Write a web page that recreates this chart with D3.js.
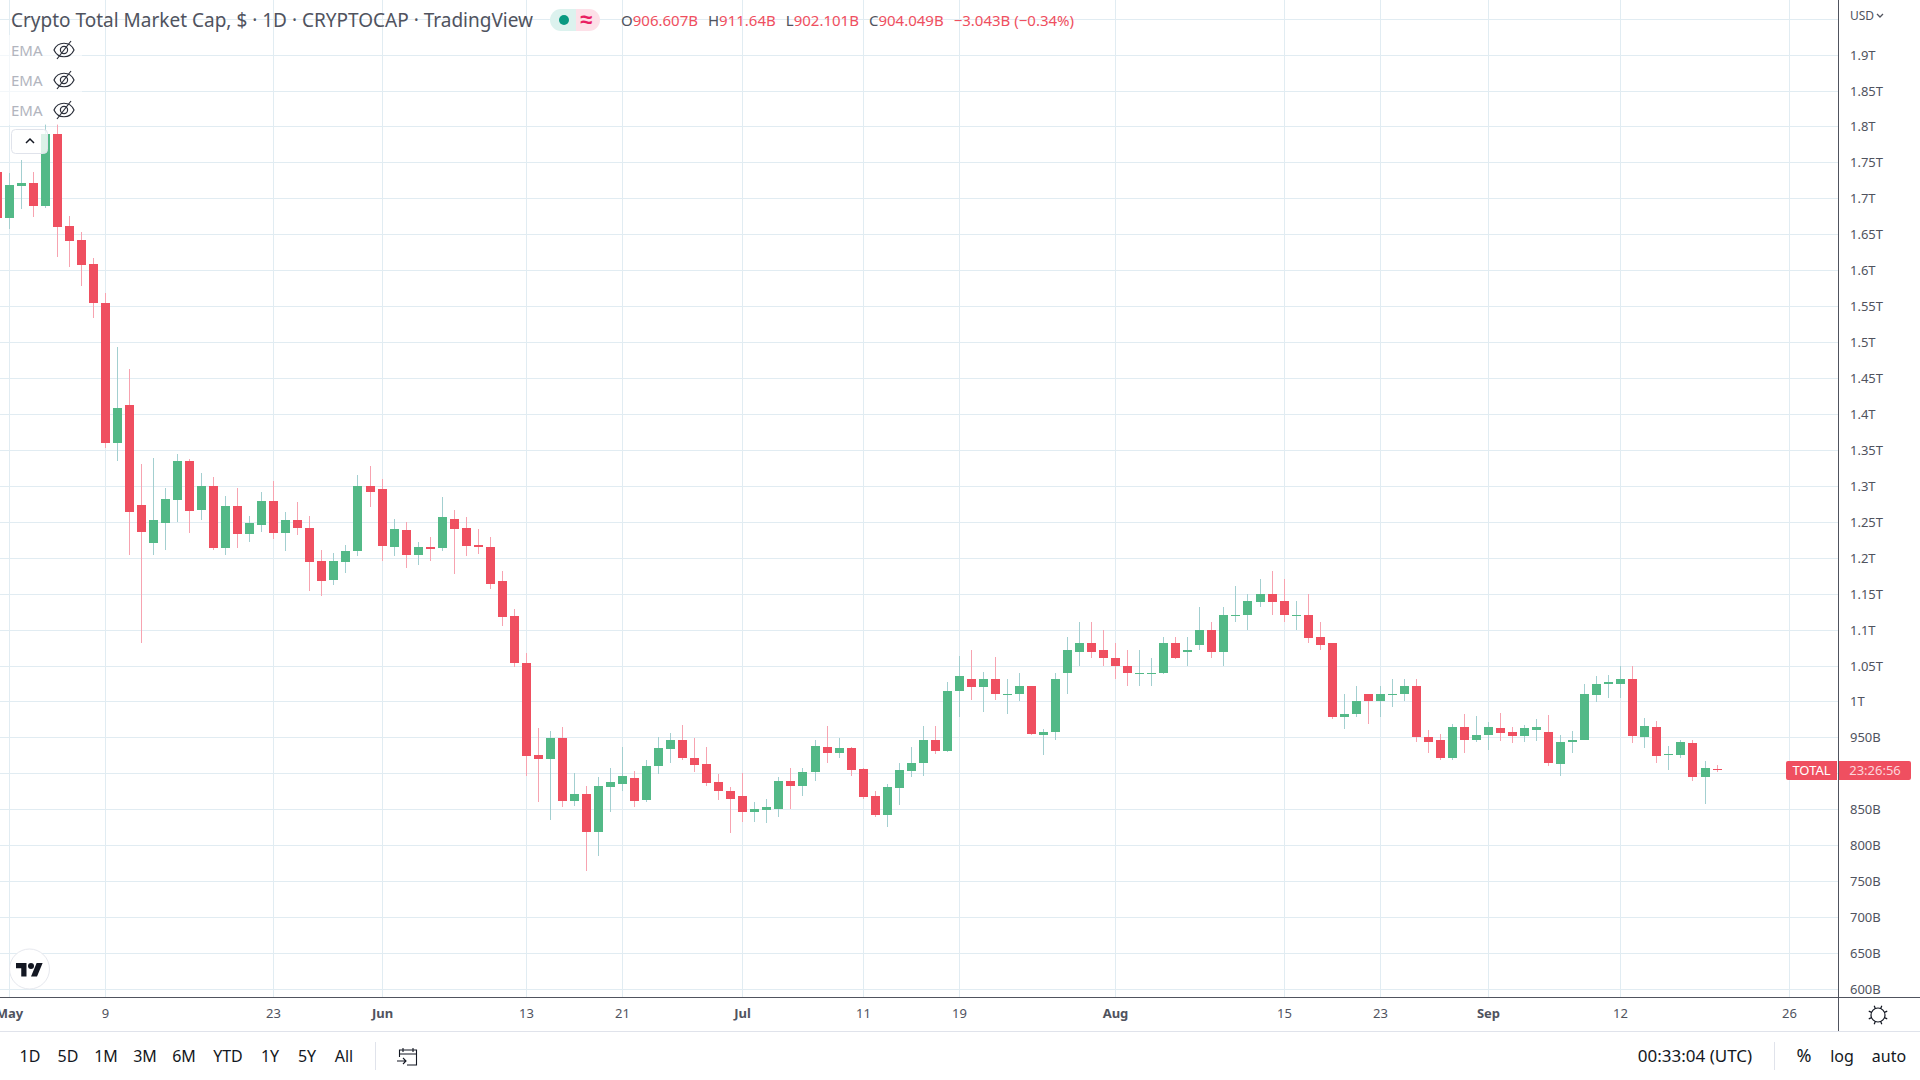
<!DOCTYPE html>
<html>
<head>
<meta charset="utf-8">
<script src="https://cdn.jsdelivr.net/npm/d3@7"></script>
<style>
html, body { margin: 0; padding: 0; background: #fff; overflow: hidden; }
text { font-family: "Noto Sans", sans-serif; }
</style>
</head>
<body>
<svg id="chart" width="1920" height="1080"></svg>
<script>
// daily candles, 30 Apr to 20 Sep 2022, in billions of USD
var opens = [1736,
    1672,1717,1721,1690,1789,1661,1642,1608,1555,1360,1413,1274,1221,1249,1281,1334,1267,1300,1214,1272,1233,1246,1279,1235,1253,1242,1196,1169,1194,1210,1300,
    1296,1215,1239,1204,1215,1214,1254,1242,1218,1215,1167,1119,1054,925,920,949,861,871,819,881,885,893,863,910,934,946,922,913,888,875,
    868,846,849,851,889,882,902,936,929,935,906,868,842,879,903,914,946,931,1014,1031,1020,1031,1010,1010,1021,954,957,1039,1069,1081,1071,
    1061,1050,1039,1039,1039,1081,1069,1079,1100,1069,1120,1120,1139,1150,1140,1120,1121,1090,1081,979,982,1011,1000,1010,1010,1021,951,946,921,964,946,
    954,963,957,952,961,957,913,943,947,1009,1024,1025,1031,950,964,925,925,942,895,906.607];
var highs = [1736,
    1735,1753,1736,1804,1804,1675,1653,1617,1569,1493,1463,1331,1339,1297,1345,1338,1318,1313,1286,1297,1258,1292,1307,1264,1278,1258,1211,1207,1218,1315,1327,
    1310,1254,1250,1222,1229,1285,1267,1256,1240,1229,1182,1128,1067,963,959,964,900,883,895,907,936,903,918,950,956,967,949,936,899,881,
    900,860,864,895,907,908,946,966,949,936,908,875,885,915,936,966,966,1027,1063,1071,1041,1062,1031,1040,1021,962,1040,1090,1111,1111,1100,
    1081,1071,1071,1061,1090,1090,1090,1131,1111,1131,1161,1150,1171,1181,1171,1140,1150,1111,1081,1011,1021,1011,1021,1031,1031,1031,961,955,969,982,980,
    971,984,964,967,975,981,953,959,1024,1035,1037,1050,1050,977,973,938,947,946,917,911.64];
var lows = [1672,
    1658,1685,1674,1686,1619,1604,1578,1533,1353,1334,1204,1082,1204,1211,1250,1235,1253,1211,1204,1214,1222,1236,1226,1210,1231,1154,1147,1162,1179,1203,1270,
    1196,1203,1186,1190,1196,1210,1178,1203,1205,1157,1105,1048,897,860,835,853,854,764,785,846,876,853,860,899,914,918,902,882,863,817,
    833,833,831,839,850,868,890,915,922,897,864,839,825,856,895,897,927,930,979,1002,985,1002,982,1001,953,925,946,1011,1050,1061,1050,
    1031,1021,1021,1021,1038,1059,1050,1071,1061,1050,1111,1100,1131,1121,1111,1100,1081,1071,975,962,979,969,979,992,1001,943,929,919,918,929,943,
    933,945,942,943,945,910,896,929,946,999,1005,1005,942,935,915,904,921,889,858,902.101];
var closes = [1672,
    1718,1721,1690,1789,1660,1640,1607,1554,1360,1409,1263,1236,1253,1282,1335,1265,1300,1214,1272,1233,1249,1279,1235,1253,1242,1194,1168,1196,1210,1300,1292,
    1217,1240,1204,1215,1212,1257,1240,1217,1215,1164,1118,1054,924,920,949,861,871,818,882,888,896,861,910,935,946,921,911,886,875,865,
    846,850,853,889,882,902,938,929,935,904,867,842,881,904,915,947,931,1014,1035,1020,1031,1010,1011,1021,955,958,1031,1071,1081,1069,1060,
    1049,1039,1040,1040,1081,1060,1071,1100,1069,1121,1121,1140,1150,1139,1120,1121,1089,1079,979,983,1001,1000,1011,1011,1021,951,944,921,964,946,954,
    964,956,952,963,964,914,943,947,1010,1025,1027,1031,952,966,924,927,943,895,908,904.049];

var priceTicks = [600,650,700,750,800,850,900,950,1000,1050,1100,1150,1200,1250,1300,1350,1400,1450,1500,1550,1600,1650,1700,1750,1800,1850,1900];
var dateTicks = ['2022-05-01','2022-05-09','2022-05-23','2022-06-01','2022-06-13','2022-06-21','2022-07-01','2022-07-11','2022-07-19','2022-08-01','2022-08-15','2022-08-23','2022-09-01','2022-09-12','2022-09-26'];
var rangeButtons = ['1D','5D','1M','3M','6M','YTD','1Y','5Y','All'];

var dates = d3.utcDay.range(new Date(Date.UTC(2022,3,30)), new Date(Date.UTC(2022,8,21)));
var tickDates = dateTicks.map(function(d){ return new Date(d + 'T00:00:00Z'); });

var paneW = 1838, paneH = 997;
var up = '#53b987', down = '#ef4f60', upWick = '#a3cfd0', downWick = '#f7a3b0';
var gridColor = '#e1ecf2', lineColor = '#50535e', textColor = '#50535e', darkText = '#131722';

var svg = d3.select('#chart');

var x = d3.scaleUtc()
    .domain([new Date(Date.UTC(2022,4,1)), new Date(Date.UTC(2022,8,26))])
    .rangeRound([8.7, 1788.7]);
var y = d3.scaleLinear()
    .domain([600, 1900])
    .rangeRound([989, 54.6]);

// grid
svg.append('g').attr('transform','translate(' + paneW + ',0)')
    .call(d3.axisLeft(y).tickValues(priceTicks.concat([1950])).tickSize(paneW).tickFormat(''))
    .call(function(g){ g.select('.domain').remove(); g.selectAll('text').remove(); })
    .selectAll('line').attr('stroke',gridColor);
svg.append('g').attr('transform','translate(0,' + paneH + ')')
    .call(d3.axisTop(x).tickValues(tickDates).tickSize(paneH).tickFormat(''))
    .call(function(g){ g.select('.domain').remove(); g.selectAll('text').remove(); })
    .selectAll('line').attr('stroke',gridColor);

// candles
var candles = svg.append('g').selectAll('g')
    .data(dates)
    .enter()
    .append('g')
    .attr('shape-rendering','crispEdges');
candles.append('rect')
    .attr('x',function(d){ return x(d); })
    .attr('width',1)
    .attr('y',function(d,i){ return y(highs[i]); })
    .attr('height',function(d,i){ return Math.max(1, y(lows[i]) - y(highs[i])); })
    .attr('fill',function(d,i){ return closes[i] >= opens[i] ? upWick : downWick; });
candles.append('rect')
    .attr('x',function(d){ return x(d) - 4; })
    .attr('width',9)
    .attr('y',function(d,i){ return y(Math.max(opens[i],closes[i])); })
    .attr('height',function(d,i){ return Math.max(1, Math.abs(y(opens[i]) - y(closes[i]))); })
    .attr('fill',function(d,i){ return closes[i] >= opens[i] ? up : down; });

// price axis, 900B sits under the last price label
var yAxis = svg.append('g').attr('transform','translate(' + paneW + ',0)')
    .call(d3.axisRight(y).tickValues(priceTicks.filter(function(d){ return d !== 900; })).tickSize(0).tickPadding(12)
        .tickFormat(function(d){ return d >= 1000 ? (d / 1000) + 'T' : d + 'B'; }));
yAxis.select('.domain').remove();
yAxis.selectAll('text').attr('font-size',13).attr('fill',textColor)
    .style('font-family','"Noto Sans", sans-serif');

// time axis
var xAxis = svg.append('g').attr('transform','translate(0,' + paneH + ')')
    .call(d3.axisBottom(x).tickValues(tickDates).tickSize(0).tickPadding(12)
        .tickFormat(function(d){ return d.getUTCDate() === 1 ? d3.utcFormat('%b')(d) : d.getUTCDate(); }));
xAxis.select('.domain').remove();
xAxis.selectAll('text').attr('font-size',13).attr('fill',textColor)
    .style('font-family','"Noto Sans", sans-serif')
    .attr('font-weight',function(d){ return d.getUTCDate() === 1 ? 700 : 400; });

// frame lines
svg.append('line').attr('x1',paneW + .5).attr('x2',paneW + .5).attr('y1',0).attr('y2',1031).attr('stroke',lineColor);
svg.append('line').attr('x1',0).attr('x2',1920).attr('y1',paneH + .5).attr('y2',paneH + .5).attr('stroke',lineColor);
svg.append('line').attr('x1',0).attr('x2',1920).attr('y1',1031.5).attr('y2',1031.5).attr('stroke','#e0e3eb');

// legend
svg.append('text').attr('x',11).attr('y',27).attr('font-size',19).attr('fill','#50535e')
    .text('Crypto Total Market Cap, $ \u00b7 1D \u00b7 CRYPTOCAP \u00b7 TradingView');

svg.append('path').attr('d','M561,9 H576 V31 H561 A11,11 0 0 1 561,9 Z').attr('fill','#dcf2ee');
svg.append('path').attr('d','M576,9 H589 A11,11 0 0 1 589,31 H576 Z').attr('fill','#fde0e8');
svg.append('circle').attr('cx',564).attr('cy',20).attr('r',5).attr('fill','#089981');
svg.append('text').attr('x',586).attr('y',27).attr('text-anchor','middle').attr('font-size',22).attr('font-weight',700).attr('fill','#e91e63').text('\u2248');

var ohlc = svg.append('text').attr('x',621).attr('y',26).attr('font-size',15).attr('fill',down);
[['O','906.607B'],['H','911.64B'],['L','902.101B'],['C','904.049B']].forEach(function(p,i){
    ohlc.append('tspan').attr('fill',textColor).attr('dx',i ? 10 : 0).text(p[0]);
    ohlc.append('tspan').text(p[1]);
});
ohlc.append('tspan').attr('dx',10).text('\u22123.043B (\u22120.34%)');

// hidden EMA rows
svg.append('rect').attr('x',0).attr('y',35).attr('width',82).attr('height',90).attr('fill','#fff').attr('fill-opacity',.6);
[50,80,110].forEach(function(cy){
    svg.append('text').attr('x',11).attr('y',cy + 6).attr('font-size',15).attr('fill','#b2b5be').text('EMA');
    var eye = svg.append('g').attr('transform','translate(64,' + cy + ')').attr('fill','none').attr('stroke','#2a2e39').attr('stroke-width',1.2);
    eye.append('path').attr('d','M-10,0 C-6,-9 6,-9 10,0 C6,9 -6,9 -10,0 Z');
    eye.append('circle').attr('r',3.6);
    eye.append('path').attr('d','M-7,9 L7,-9');
});
svg.append('rect').attr('x',11.5).attr('y',129.5).attr('width',36).attr('height',24).attr('rx',4)
    .attr('fill','#fff').attr('fill-opacity',.8).attr('stroke','#e0e3eb');
svg.append('path').attr('d','M26,143 L30,139 L34,143').attr('fill','none').attr('stroke',darkText).attr('stroke-width',1.5);

// logo
svg.append('circle').attr('cx',29.5).attr('cy',969).attr('r',20).attr('fill','#fff').attr('stroke','#e6e8ee').attr('stroke-width',1);
svg.append('path').attr('transform','translate(16,960) scale(.75)')
    .attr('d','M14 22H7V11H0V4h14v18zM28 22h-8l7.5-18h8L28 22z').attr('fill',darkText);
svg.append('circle').attr('cx',31).attr('cy',966).attr('r',3).attr('fill',darkText);

// last price labels
svg.append('path').attr('d','M1788,761 H1837 V780 H1788 A2,2 0 0 1 1786,778 V763 A2,2 0 0 1 1788,761 Z').attr('fill',down);
svg.append('path').attr('d','M1839,761 H1909 A2,2 0 0 1 1911,763 V778 A2,2 0 0 1 1909,780 H1839 Z').attr('fill',down);
svg.append('text').attr('x',1811.5).attr('y',775).attr('text-anchor','middle').attr('font-size',13).attr('fill','#fff').text('TOTAL');
svg.append('text').attr('x',1875).attr('y',775).attr('text-anchor','middle').attr('font-size',13).attr('fill','#fcd5da').text('23:26:56');

// currency
svg.append('text').attr('x',1850).attr('y',20).attr('font-size',12).attr('fill',textColor).text('USD');
svg.append('path').attr('d','M1877,14 L1880,17 L1883,14').attr('fill','none').attr('stroke',textColor).attr('stroke-width',1.3);

// settings icon
var gear = svg.append('g').attr('transform','translate(1878,1015)').attr('fill','none').attr('stroke',darkText).attr('stroke-width',1.2);
gear.append('circle').attr('r',7);
d3.range(8).forEach(function(i){
    var a = i * Math.PI / 4 + Math.PI / 8;
    gear.append('line').attr('x1',7 * Math.cos(a)).attr('y1',7 * Math.sin(a)).attr('x2',10 * Math.cos(a)).attr('y2',10 * Math.sin(a));
});

// bottom toolbar
var buttonCenters = [30,68,106,145,184,228,270,307,344];
svg.append('g').selectAll('text')
    .data(rangeButtons)
    .enter()
    .append('text')
    .attr('x',function(d,i){ return buttonCenters[i]; })
    .attr('y',1062)
    .attr('text-anchor','middle')
    .attr('font-size',16)
    .attr('fill',darkText)
    .text(function(d){ return d; });
svg.append('line').attr('x1',375.5).attr('x2',375.5).attr('y1',1042).attr('y2',1070).attr('stroke','#e0e3eb');
svg.append('path').attr('transform','translate(397,1047)')
    .attr('d','M2.5,10 V3 H19.5 V18 H10 M2.5,7 H19.5 M6,1 V5 M16,1 V5 M0,14 H9 M6,11 L9,14 L6,17')
    .attr('fill','none').attr('stroke',darkText).attr('stroke-width',1.1);

svg.append('text').attr('x',1695).attr('y',1062).attr('text-anchor','middle').attr('font-size',17).attr('fill',darkText).text('00:33:04 (UTC)');
svg.append('line').attr('x1',1774.5).attr('x2',1774.5).attr('y1',1042).attr('y2',1070).attr('stroke','#e0e3eb');
svg.append('text').attr('x',1804).attr('y',1062).attr('text-anchor','middle').attr('font-size',18).attr('fill',darkText).text('%');
svg.append('text').attr('x',1842).attr('y',1062).attr('text-anchor','middle').attr('font-size',16).attr('fill',darkText).text('log');
svg.append('text').attr('x',1889).attr('y',1062).attr('text-anchor','middle').attr('font-size',16).attr('fill',darkText).text('auto');
</script>
</body>
</html>
